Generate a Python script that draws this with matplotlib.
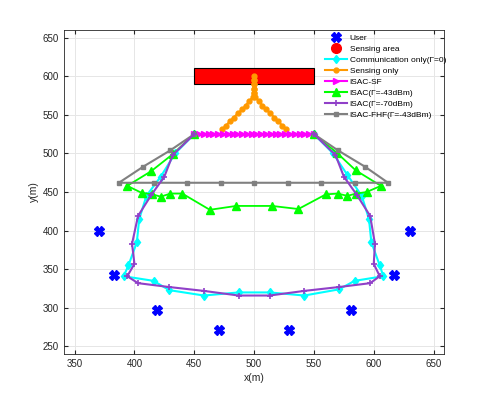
import numpy as np
import matplotlib.pyplot as plt
from matplotlib.patches import Rectangle
from matplotlib.lines import Line2D

plt.rcParams['font.family'] = ['Liberation Sans', 'DejaVu Sans']

# users
user_x = [370, 383, 419, 471, 529, 581, 617, 630]
user_y = [400, 343, 297, 272, 272, 297, 343, 400]

# sensing area (x0, x1, y0, y1)
area_x = [450, 550]
area_y = [590, 610]

# communication only
comm_x = [450, 434, 422, 410, 404, 402, 395, 391, 416, 429, 458, 487, 513,
          542, 571, 584, 608, 605, 598, 596, 590, 578, 566, 550]
comm_y = [525, 500, 470, 445, 415, 385, 355, 341, 335, 323, 316, 320, 320,
          316, 324, 335, 341, 355, 385, 415, 445, 472, 500, 525]

# sensing only
sens_x = [473, 476.5, 480, 483, 486.5, 490, 493, 496, 499, 500, 500, 500, 500,
          500, 500, 500, 500, 500, 501, 504, 507, 510, 513.5, 517, 520, 523.5, 527]
sens_y = [531, 536, 542, 546.5, 552, 557, 562, 568, 573, 578.5, 584, 589.5, 595,
          600, 595, 589.5, 584, 578.5, 573, 568, 562, 557, 552, 546.5, 542, 536, 531]

# ISAC-SF
sf_x = list(range(450, 551, 4))
sf_y = [525] * len(sf_x)

# ISAC -43dBm
g43_x = [450, 432, 414, 394, 406, 415, 422, 430, 440, 463, 485, 515, 537,
         560, 570, 578, 585, 594, 606, 585, 569, 550]
g43_y = [525, 499, 477, 458, 449, 447, 444, 448, 448, 427, 432, 432, 428,
         447, 448, 445, 448, 450, 458, 478, 501, 525]

# ISAC -70dBm
g70_x = [450, 432, 425, 414, 403, 398, 400, 394, 403, 429, 458, 487, 513,
         542, 571, 597, 605, 600, 601, 597, 586, 575, 568, 550]
g70_y = [525, 498, 470, 446, 419, 383, 357, 341, 332, 327, 322, 316, 316,
         322, 327, 332, 341, 357, 383, 419, 446, 470, 498, 525]

# ISAC-FHF
fhf_x = [450, 430, 407.5, 387, 416, 444, 472, 500, 528, 556, 584, 612, 592.5, 570, 550]
fhf_y = [525, 504, 483, 462, 462, 462, 462, 462, 462, 462, 462, 462, 483, 504, 525]

fig = plt.figure(figsize=(4.91, 3.98), dpi=100)
ax = fig.add_axes([0.13, 0.11, 0.775, 0.815])

ax.add_patch(Rectangle((area_x[0], area_y[0]), area_x[1] - area_x[0], area_y[1] - area_y[0],
                       facecolor='red', edgecolor='black', lw=0.8, zorder=2))

ax.plot(user_x, user_y, 'X', color='blue', ms=7, ls='none', zorder=3)
ax.plot(comm_x, comm_y, '-d', color='cyan', lw=1.5, ms=4.5, zorder=3)
ax.plot(sens_x, sens_y, '-o', color='#FF9900', lw=1.5, ms=3.5, zorder=3)
ax.plot(sf_x, sf_y, '->', color='magenta', lw=1.5, ms=5, zorder=3)
ax.plot(g43_x, g43_y, '-^', color='#00FF00', lw=1.3, ms=5.5, zorder=3)
ax.plot(g70_x, g70_y, '-+', color='#9040C8', lw=1.5, ms=4, mew=1.2, zorder=4)
ax.plot(fhf_x, fhf_y, '-s', color='#808080', lw=1.5, ms=3.5, zorder=3)

handles = [
    Line2D([], [], marker='X', color='blue', ls='none', ms=7),
    Line2D([], [], marker='o', color='red', ls='none', ms=7),
    Line2D([], [], marker='d', color='cyan', lw=1.5, ms=4.5),
    Line2D([], [], marker='o', color='#FF9900', lw=1.5, ms=3.5),
    Line2D([], [], marker='>', color='magenta', lw=1.5, ms=5),
    Line2D([], [], marker='^', color='#00FF00', lw=1.5, ms=5.5),
    Line2D([], [], marker='+', color='#9040C8', lw=1.5, ms=4, mew=1.2),
    Line2D([], [], marker='s', color='#808080', lw=1.5, ms=3.5),
]
labels = ['User', 'Sensing area', 'Communication only(Γ=0)', 'Sensing only', 'ISAC-SF',
          'ISAC(Γ=-43dBm)', 'ISAC(Γ=-70dBm)', 'ISAC-FHF(Γ=-43dBm)']
ax.legend(handles, labels, loc='upper left', bbox_to_anchor=(0.686, 0.988), frameon=False,
          fontsize=6.0, handlelength=2.6, labelspacing=0.38, borderaxespad=0, borderpad=0,
          handletextpad=0.37)

ax.set_xlim(341, 659)
ax.set_ylim(240, 660)
ax.set_xticks(np.arange(350, 651, 50))
ax.set_yticks(np.arange(250, 651, 50))
ax.grid(True, color='#e6e6e6', lw=0.7)
ax.set_axisbelow(True)
ax.tick_params(direction='in', top=True, right=True, labelsize=7, colors='#262626', length=3)
for s in ax.spines.values():
    s.set_color('#262626')
    s.set_linewidth(0.6)
ax.set_xlabel('x(m)', fontsize=7.5, color='#262626', labelpad=3)
ax.set_ylabel('y(m)', fontsize=7.5, color='#262626', labelpad=3)

fig.savefig('out.png', dpi=100)
